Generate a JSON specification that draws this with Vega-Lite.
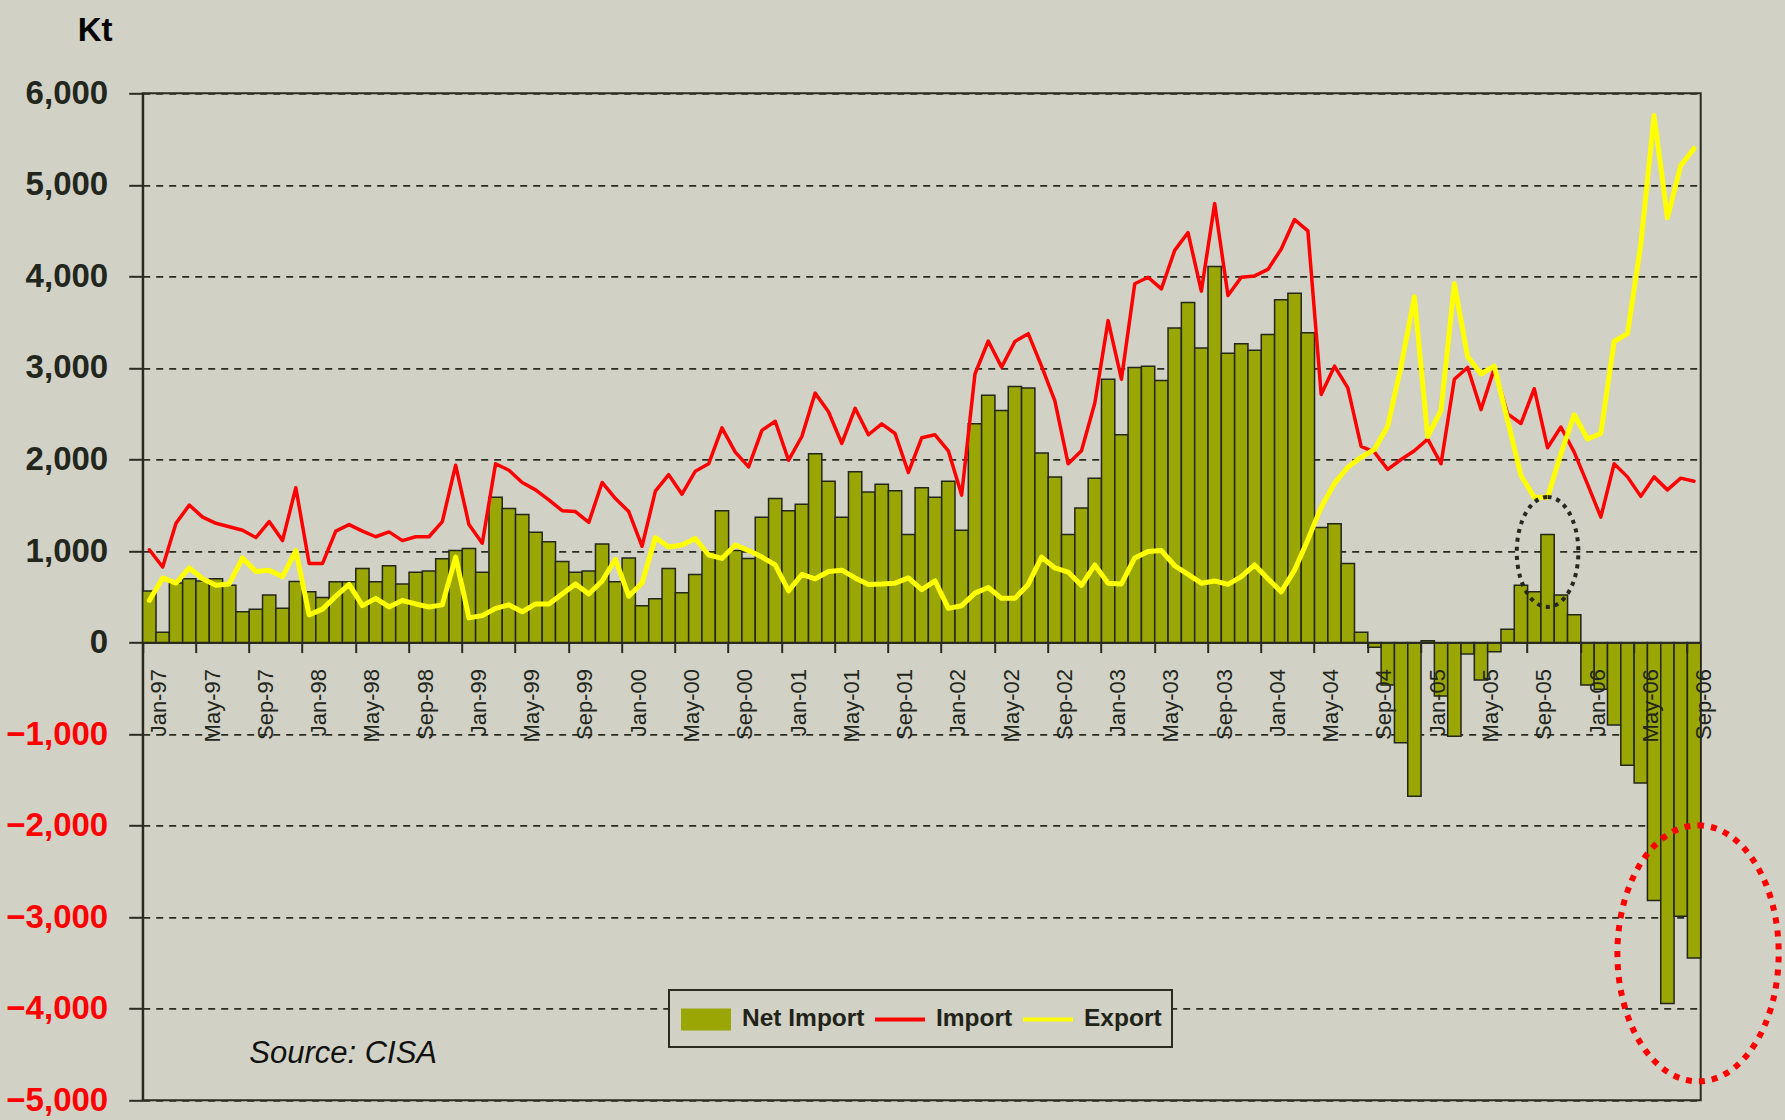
{
  "$schema": "https://vega.github.io/schema/vega-lite/v6.json",
  "width": 1558,
  "height": 1007,
  "autosize": "none",
  "padding": {"left": 142.7, "top": 93.3, "right": 84.3, "bottom": 19.7},
  "background": "#d1d1c5",
  "config": {"view": {"stroke": "#2a2c22", "strokeWidth": 2}, "font": "Liberation Sans", "legend": {"strokeWidth": 2}},
  "datasets": {
    "trade": [
      {"m":"Jan-97","net":564,"imp":1014,"exp":460},
      {"m":"Feb-97","net":114,"imp":825,"exp":706},
      {"m":"Mar-97","net":650,"imp":1303,"exp":650},
      {"m":"Apr-97","net":697,"imp":1502,"exp":815},
      {"m":"May-97","net":673,"imp":1370,"exp":697},
      {"m":"Jun-97","net":697,"imp":1303,"exp":625},
      {"m":"Jul-97","net":625,"imp":1265,"exp":640},
      {"m":"Aug-97","net":336,"imp":1227,"exp":924},
      {"m":"Sep-97","net":365,"imp":1147,"exp":777},
      {"m":"Oct-97","net":521,"imp":1322,"exp":791},
      {"m":"Nov-97","net":374,"imp":1114,"exp":720},
      {"m":"Dec-97","net":668,"imp":1692,"exp":1005},
      {"m":"Jan-98","net":554,"imp":863,"exp":303},
      {"m":"Feb-98","net":493,"imp":863,"exp":365},
      {"m":"Mar-98","net":664,"imp":1218,"exp":507},
      {"m":"Apr-98","net":664,"imp":1289,"exp":635},
      {"m":"May-98","net":810,"imp":1218,"exp":403},
      {"m":"Jun-98","net":664,"imp":1156,"exp":483},
      {"m":"Jul-98","net":839,"imp":1209,"exp":389},
      {"m":"Aug-98","net":640,"imp":1114,"exp":460},
      {"m":"Sep-98","net":768,"imp":1156,"exp":422},
      {"m":"Oct-98","net":782,"imp":1156,"exp":389},
      {"m":"Nov-98","net":915,"imp":1322,"exp":412},
      {"m":"Dec-98","net":1005,"imp":1938,"exp":934},
      {"m":"Jan-99","net":1028,"imp":1289,"exp":270},
      {"m":"Feb-99","net":768,"imp":1085,"exp":294},
      {"m":"Mar-99","net":1588,"imp":1953,"exp":374},
      {"m":"Apr-99","net":1464,"imp":1882,"exp":412},
      {"m":"May-99","net":1398,"imp":1749,"exp":336},
      {"m":"Jun-99","net":1204,"imp":1668,"exp":422},
      {"m":"Jul-99","net":1100,"imp":1559,"exp":422},
      {"m":"Aug-99","net":886,"imp":1441,"exp":531},
      {"m":"Sep-99","net":768,"imp":1431,"exp":640},
      {"m":"Oct-99","net":782,"imp":1313,"exp":531},
      {"m":"Nov-99","net":1076,"imp":1749,"exp":673},
      {"m":"Dec-99","net":664,"imp":1573,"exp":910},
      {"m":"Jan-00","net":924,"imp":1431,"exp":507},
      {"m":"Feb-00","net":403,"imp":1052,"exp":650},
      {"m":"Mar-00","net":479,"imp":1654,"exp":1147},
      {"m":"Apr-00","net":810,"imp":1834,"exp":1043},
      {"m":"May-00","net":545,"imp":1621,"exp":1066},
      {"m":"Jun-00","net":744,"imp":1872,"exp":1137},
      {"m":"Jul-00","net":991,"imp":1953,"exp":957},
      {"m":"Aug-00","net":1441,"imp":2346,"exp":919},
      {"m":"Sep-00","net":1005,"imp":2081,"exp":1066},
      {"m":"Oct-00","net":919,"imp":1919,"exp":1005},
      {"m":"Nov-00","net":1370,"imp":2318,"exp":934},
      {"m":"Dec-00","net":1573,"imp":2417,"exp":848},
      {"m":"Jan-01","net":1441,"imp":1991,"exp":564},
      {"m":"Feb-01","net":1512,"imp":2251,"exp":744},
      {"m":"Mar-01","net":2062,"imp":2725,"exp":697},
      {"m":"Apr-01","net":1763,"imp":2521,"exp":777},
      {"m":"May-01","net":1370,"imp":2175,"exp":791},
      {"m":"Jun-01","net":1867,"imp":2559,"exp":706},
      {"m":"Jul-01","net":1645,"imp":2270,"exp":635},
      {"m":"Aug-01","net":1730,"imp":2389,"exp":640},
      {"m":"Sep-01","net":1659,"imp":2284,"exp":649},
      {"m":"Oct-01","net":1180,"imp":1858,"exp":706},
      {"m":"Nov-01","net":1692,"imp":2237,"exp":578},
      {"m":"Dec-01","net":1588,"imp":2270,"exp":673},
      {"m":"Jan-02","net":1763,"imp":2095,"exp":374},
      {"m":"Feb-02","net":1227,"imp":1611,"exp":403},
      {"m":"Mar-02","net":2389,"imp":2934,"exp":540},
      {"m":"Apr-02","net":2701,"imp":3294,"exp":602},
      {"m":"May-02","net":2536,"imp":3009,"exp":483},
      {"m":"Jun-02","net":2796,"imp":3289,"exp":483},
      {"m":"Jul-02","net":2782,"imp":3374,"exp":635},
      {"m":"Aug-02","net":2071,"imp":3019,"exp":934},
      {"m":"Sep-02","net":1810,"imp":2640,"exp":815},
      {"m":"Oct-02","net":1180,"imp":1953,"exp":770},
      {"m":"Nov-02","net":1469,"imp":2095,"exp":625},
      {"m":"Dec-02","net":1796,"imp":2616,"exp":848},
      {"m":"Jan-03","net":2877,"imp":3517,"exp":649},
      {"m":"Feb-03","net":2270,"imp":2877,"exp":640},
      {"m":"Mar-03","net":3005,"imp":3919,"exp":924},
      {"m":"Apr-03","net":3019,"imp":3991,"exp":995},
      {"m":"May-03","net":2863,"imp":3863,"exp":1005},
      {"m":"Jun-03","net":3436,"imp":4284,"exp":839},
      {"m":"Jul-03","net":3716,"imp":4479,"exp":744},
      {"m":"Aug-03","net":3218,"imp":3839,"exp":649},
      {"m":"Sep-03","net":4109,"imp":4796,"exp":673},
      {"m":"Oct-03","net":3161,"imp":3791,"exp":635},
      {"m":"Nov-03","net":3265,"imp":3991,"exp":720},
      {"m":"Dec-03","net":3194,"imp":4005,"exp":848},
      {"m":"Jan-04","net":3365,"imp":4076,"exp":697},
      {"m":"Feb-04","net":3744,"imp":4299,"exp":554},
      {"m":"Mar-04","net":3815,"imp":4621,"exp":791},
      {"m":"Apr-04","net":3384,"imp":4498,"exp":1123},
      {"m":"May-04","net":1256,"imp":2711,"exp":1479},
      {"m":"Jun-04","net":1299,"imp":3019,"exp":1739},
      {"m":"Jul-04","net":863,"imp":2782,"exp":1915},
      {"m":"Aug-04","net":114,"imp":2142,"exp":2024},
      {"m":"Sep-04","net":-50,"imp":2081,"exp":2110},
      {"m":"Oct-04","net":-464,"imp":1891,"exp":2365},
      {"m":"Nov-04","net":-1095,"imp":2000,"exp":3019},
      {"m":"Dec-04","net":-1679,"imp":2095,"exp":3777},
      {"m":"Jan-05","net":20,"imp":2223,"exp":2251},
      {"m":"Feb-05","net":-584,"imp":1953,"exp":2536},
      {"m":"Mar-05","net":-1022,"imp":2877,"exp":3919},
      {"m":"Apr-05","net":-124,"imp":3005,"exp":3123},
      {"m":"May-05","net":-409,"imp":2545,"exp":2934},
      {"m":"Jun-05","net":-99,"imp":2995,"exp":3019},
      {"m":"Jul-05","net":146,"imp":2498,"exp":2427},
      {"m":"Aug-05","net":626,"imp":2393,"exp":1825},
      {"m":"Sep-05","net":555,"imp":2773,"exp":1588},
      {"m":"Oct-05","net":1180,"imp":2128,"exp":1588},
      {"m":"Nov-05","net":521,"imp":2355,"exp":2062},
      {"m":"Dec-05","net":305,"imp":2081,"exp":2488},
      {"m":"Jan-06","net":-464,"imp":1730,"exp":2223},
      {"m":"Feb-06","net":-511,"imp":1370,"exp":2284},
      {"m":"Mar-06","net":-901,"imp":1953,"exp":3289},
      {"m":"Apr-06","net":-1339,"imp":1810,"exp":3374},
      {"m":"May-06","net":-1533,"imp":1597,"exp":4346},
      {"m":"Jun-06","net":-2818,"imp":1810,"exp":5758},
      {"m":"Jul-06","net":-3942,"imp":1668,"exp":4640},
      {"m":"Aug-06","net":-2989,"imp":1796,"exp":5209},
      {"m":"Sep-06","net":-3445,"imp":1763,"exp":5398}
    ],
    "notes": [
      {"m":"Oct-05","v":990,"kind":"black"},
      {"m":"Sep-06","v":-3395,"kind":"red"}
    ],
    "source": [
      {"m":"Sep-97","v":-4590,"label":"Source: CISA"}
    ]
  },
  "data": {"name": "trade"},
  "encoding": {
    "x": {
      "field": "m", "type": "ordinal", "sort": null,
      "scale": {"type": "band", "paddingInner": 0, "paddingOuter": 0,
        "domain": ["Jan-97","Feb-97","Mar-97","Apr-97","May-97","Jun-97","Jul-97","Aug-97","Sep-97","Oct-97","Nov-97","Dec-97",
                   "Jan-98","Feb-98","Mar-98","Apr-98","May-98","Jun-98","Jul-98","Aug-98","Sep-98","Oct-98","Nov-98","Dec-98",
                   "Jan-99","Feb-99","Mar-99","Apr-99","May-99","Jun-99","Jul-99","Aug-99","Sep-99","Oct-99","Nov-99","Dec-99",
                   "Jan-00","Feb-00","Mar-00","Apr-00","May-00","Jun-00","Jul-00","Aug-00","Sep-00","Oct-00","Nov-00","Dec-00",
                   "Jan-01","Feb-01","Mar-01","Apr-01","May-01","Jun-01","Jul-01","Aug-01","Sep-01","Oct-01","Nov-01","Dec-01",
                   "Jan-02","Feb-02","Mar-02","Apr-02","May-02","Jun-02","Jul-02","Aug-02","Sep-02","Oct-02","Nov-02","Dec-02",
                   "Jan-03","Feb-03","Mar-03","Apr-03","May-03","Jun-03","Jul-03","Aug-03","Sep-03","Oct-03","Nov-03","Dec-03",
                   "Jan-04","Feb-04","Mar-04","Apr-04","May-04","Jun-04","Jul-04","Aug-04","Sep-04","Oct-04","Nov-04","Dec-04",
                   "Jan-05","Feb-05","Mar-05","Apr-05","May-05","Jun-05","Jul-05","Aug-05","Sep-05","Oct-05","Nov-05","Dec-05",
                   "Jan-06","Feb-06","Mar-06","Apr-06","May-06","Jun-06","Jul-06","Aug-06","Sep-06"]},
      "axis": {
        "title": null,
        "values": ["Jan-97","May-97","Sep-97","Jan-98","May-98","Sep-98","Jan-99","May-99","Sep-99","Jan-00","May-00","Sep-00",
                   "Jan-01","May-01","Sep-01","Jan-02","May-02","Sep-02","Jan-03","May-03","Sep-03","Jan-04","May-04","Sep-04",
                   "Jan-05","May-05","Sep-05","Jan-06","May-06","Sep-06"],
        "bandPosition": 0,
        "labelOffset": 10,
        "labelAngle": -90,
        "labelFont": "Liberation Sans",
        "labelFontSize": 22,
        "labelColor": "#22261c",
        "labelPadding": 16,
        "labelOverlap": false,
        "tickSize": 10,
        "tickWidth": 2,
        "tickColor": "#2a2c22",
        "domainColor": "#2a2c22",
        "domainWidth": 2,
        "offset": -457.73,
        "zindex": 1
      }
    }
  },
  "layer": [
    {
      "mark": {"type": "bar", "stroke": "#23261b", "strokeWidth": 1.5},
      "encoding": {
        "y": {
          "field": "net", "type": "quantitative",
          "scale": {"domain": [-5000, 6000], "nice": false, "zero": false},
          "axis": {
            "values": [-5000,-4000,-3000,-2000,-1000,0,1000,2000,3000,4000,5000,6000],
            "format": ",d",
            "title": "Kt",
            "titleAngle": 0,
            "titleAlign": "right",
            "titleBaseline": "alphabetic",
            "titleX": -30.7,
            "titleY": -53.3,
            "titleFont": "Liberation Sans",
            "titleFontSize": 33,
            "titleFontWeight": "bold",
            "titleColor": "#000000",
            "labelFont": "Liberation Sans",
            "labelFontSize": 33,
            "labelFontWeight": "bold",
            "labelColor": {"condition": {"test": "datum.value < 0", "value": "#ff0000"}, "value": "#22261c"},
            "labelPadding": 21,
            "tickSize": 14,
            "tickWidth": 2,
            "tickColor": "#2a2c22",
            "domainColor": "#2a2c22",
            "domainWidth": 2,
            "grid": true,
            "gridColor": "#2a2c22",
            "gridWidth": 1.8,
            "gridDash": [7, 6],
            "zindex": 0
          }
        },
        "color": {
          "datum": "Net Import", "type": "nominal",
          "scale": {"domain": ["Net Import", "Import", "Export"], "range": ["#99a604", "#ff0000", "#ffff00"]},
          "legend": {
            "title": null,
            "orient": "none",
            "legendX": 526.3,
            "legendY": 896.7,
            "direction": "horizontal",
            "strokeColor": "#2a2c22",
            "fillColor": "#d1d1c5",
            "padding": 10,
            "labelFont": "Liberation Sans",
            "labelFontSize": 24.5,
            "labelFontWeight": "bold",
            "labelColor": "#1f2318",
            "labelOffset": 17,
            "columnPadding": 2,
            "symbolSize": 1156,
            "symbolOffset": 8,
            "symbolOpacity": 1,
            "symbolStrokeWidth": 4,
            "symbolType": {"expr": "datum.value === 'Net Import' ? 'M-1.353,-0.53H1.353V0.53H-1.353Z' : 'M-1.47,-0.53M1.47,0.53M-1.47,0H1.47'"}
          }
        }
      }
    },
    {
      "mark": {"type": "line", "strokeWidth": 3.5, "strokeJoin": "round", "strokeCap": "round"},
      "encoding": {
        "y": {"field": "imp", "type": "quantitative"},
        "color": {"datum": "Import", "type": "nominal"}
      }
    },
    {
      "mark": {"type": "line", "strokeWidth": 5, "strokeJoin": "round", "strokeCap": "round"},
      "encoding": {
        "y": {"field": "exp", "type": "quantitative"},
        "color": {"datum": "Export", "type": "nominal"}
      }
    },
    {
      "data": {"name": "notes"},
      "transform": [{"filter": "datum.kind === 'black'"}],
      "mark": {"type": "point", "shape": "M0,-1A0.56,1,0,1,1,0,1A0.56,1,0,1,1,0,-1Z", "size": 12100, "filled": false, "stroke": "#26281f", "strokeWidth": 4, "strokeDash": [4, 5], "opacity": 1},
      "encoding": {
        "y": {"field": "v", "type": "quantitative"}
      }
    },
    {
      "data": {"name": "notes"},
      "transform": [{"filter": "datum.kind === 'red'"}],
      "mark": {"type": "point", "shape": "M0,-1A0.63,1,0,1,1,0,1A0.63,1,0,1,1,0,-1Z", "size": 65536, "filled": false, "stroke": "#ff0000", "strokeWidth": 6, "strokeDash": [6, 7], "opacity": 1},
      "encoding": {
        "x": {"field": "m", "type": "ordinal", "bandPosition": 0.8},
        "y": {"field": "v", "type": "quantitative"}
      }
    },
    {
      "data": {"name": "source"},
      "mark": {"type": "text", "align": "left", "baseline": "alphabetic", "font": "Liberation Sans", "fontSize": 31, "fontStyle": "italic", "color": "#111111"},
      "encoding": {
        "x": {"field": "m", "type": "ordinal", "bandPosition": 0},
        "y": {"field": "v", "type": "quantitative"},
        "text": {"field": "label"}
      }
    }
  ]
}
